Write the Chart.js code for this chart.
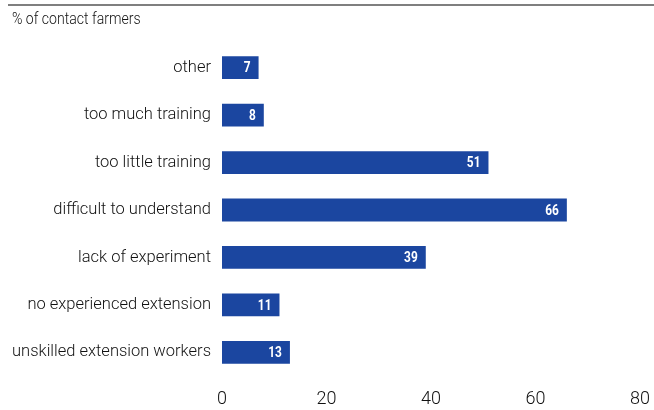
<!DOCTYPE html>
<html>
<head>
<meta charset="utf-8">
<script src="https://cdn.jsdelivr.net/npm/chart.js@4.4.1/dist/chart.umd.min.js"></script>
<style>
  html, body { margin: 0; padding: 0; background: #fff; }
  #wrap { width: 654px; height: 410px; position: relative; }
</style>
</head>
<body>
<div id="wrap"><canvas id="reasonsChart"></canvas></div>
<script>
// Reasons given by contact farmers (% of respondents)
const categories = [
    'other',
    'too much training',
    'too little training',
    'difficult to understand',
    'lack of experiment',
    'no experienced extension',
    'unskilled extension workers'
];
const shares = [7, 8, 51, 66, 39, 11, 13];
const xTicks = [0, 20, 40, 60, 80];

const barColor = '#1b46a0';

// header rule + unit caption above the plot
const headerPlugin = {
    id: 'header',
    beforeDraw(chart) {
        const ctx = chart.ctx;
        ctx.save();
        ctx.strokeStyle = '#555';
        ctx.lineWidth = 1.5;
        ctx.beginPath();
        ctx.moveTo(8, 5);
        ctx.lineTo(chart.width, 5);
        ctx.stroke();
        ctx.fillStyle = '#111';
        ctx.font = '300 16px Roboto, sans-serif';
        ctx.textBaseline = 'middle';
        ctx.textAlign = 'left';
        // slightly condensed caption
        ctx.translate(12, 20);
        ctx.scale(0.88, 1);
        ctx.fillText('% of contact farmers', 0, 0);
        ctx.restore();
    }
};

// white value labels at the end of each bar
const valueLabels = {
    id: 'valueLabels',
    afterDatasetsDraw(chart) {
        const ctx = chart.ctx;
        const meta = chart.getDatasetMeta(0);
        ctx.save();
        ctx.fillStyle = '#fff';
        ctx.font = 'bold 14px Roboto, sans-serif';
        ctx.textAlign = 'right';
        ctx.textBaseline = 'middle';
        meta.data.forEach((bar, i) => {
            ctx.save();
            ctx.translate(bar.x - 8, bar.y + 1);
            ctx.scale(0.85, 1.05);
            ctx.fillText(String(shares[i]), 0, 0);
            ctx.restore();
        });
        ctx.restore();
    }
};

const ctx = document.getElementById('reasonsChart').getContext('2d');

new Chart(ctx, {
    type: 'bar',
    data: {
        labels: categories,
        datasets: [{
            data: shares,
            backgroundColor: barColor,
            borderWidth: 0,
            barPercentage: 0.48,
            categoryPercentage: 1
        }]
    },
    options: {
        indexAxis: 'y',
        responsive: true,
        maintainAspectRatio: false,
        animation: false,
        layout: {
            padding: { top: 44, right: 14, bottom: 0, left: 0 }
        },
        plugins: {
            legend: { display: false },
            tooltip: { enabled: false }
        },
        scales: {
            x: {
                min: 0,
                max: 80,
                grid: { display: false, drawTicks: false },
                border: { display: false },
                afterBuildTicks: scale => {
                    scale.ticks = xTicks.map(v => ({ value: v }));
                },
                afterFit: scale => {
                    scale.height = 34;
                    scale.paddingLeft = 0;
                    scale.paddingRight = 0;
                },
                ticks: {
                    padding: 13,
                    color: '#111',
                    font: { family: 'Roboto', size: 18, weight: '300' }
                }
            },
            y: {
                grid: { display: false, drawTicks: false },
                border: { display: false },
                afterFit: scale => { scale.width = 222; },
                ticks: {
                    padding: 11,
                    color: '#111',
                    font: { family: 'Roboto', size: 16.5, weight: '300' }
                }
            }
        }
    },
    plugins: [headerPlugin, valueLabels]
});
</script>
</body>
</html>
